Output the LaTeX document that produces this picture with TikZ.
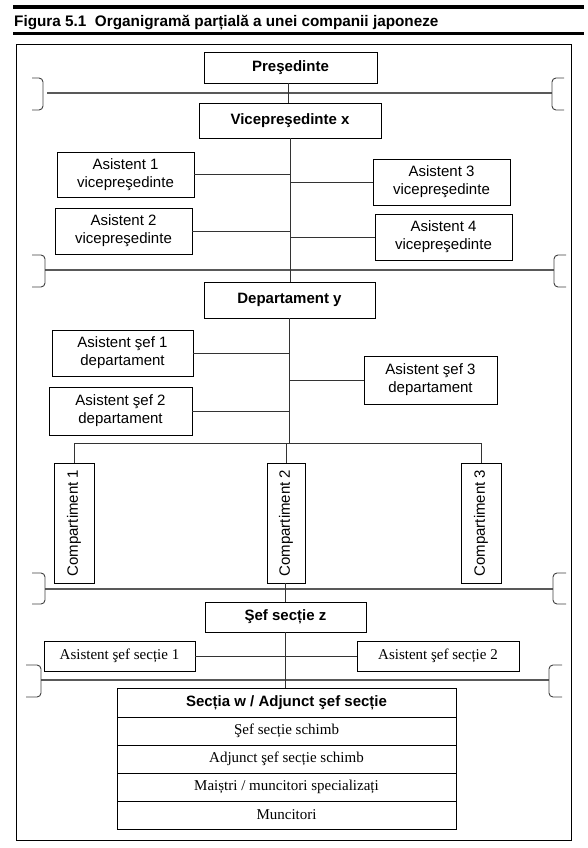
\documentclass[tikz,border=0pt]{standalone}
\usepackage{fontspec}
\setmainfont{Liberation Sans}
\newfontfamily\seriffont{Liberation Serif}
\begin{document}
\begin{tikzpicture}[x=1pt,y=-1pt,
  box/.style={draw=black,line width=0.9pt,fill=white,inner sep=1pt,align=center,
    font=\fontsize{15}{18}\selectfont},
  bbox/.style={box,font=\bfseries\fontsize{15}{18}\selectfont},
  sbox/.style={box,font=\seriffont\fontsize{15}{18}\selectfont},
  vtext/.style={rotate=90,inner sep=0,font=\fontsize{15}{18}\selectfont},
  conn/.style={draw=black!80,line width=0.9pt},
  level/.style={draw=black!65,line width=1.2pt},
  brack/.style={draw=black!75,line width=0.9pt,rounded corners=4pt},
  frame/.style={draw=black,line width=1pt},
  rule/.style={draw=black,line width=3.2pt}]
\useasboundingbox (0,0) rectangle (587,848);
% title
\draw[rule] (13,7) -- (584,7);
\draw[rule] (13,33.5) -- (584,33.5);
\node[anchor=base west,inner sep=0,font=\bfseries\fontsize{15.3}{18}\selectfont] (title) at (14,26.5)
  {Figura 5.1\ \ Organigramă parțială a unei companii japoneze};
% frame
\draw[frame] (16,45) rectangle (571,840);
% level lines with brackets
\draw[level] (47,93) -- (552,93);
\draw[brack] (32,78) -- (43,78) -- (43,110) -- (32,110);
\draw[brack] (564,78) -- (552,78) -- (552,110) -- (564,110);
\draw[level] (45,270) -- (554,270);
\draw[brack] (32,255) -- (45,255) -- (45,287) -- (32,287);
\draw[brack] (566,255) -- (554,255) -- (554,287) -- (566,287);
\draw[level] (45,589) -- (553,589);
\draw[brack] (32,573) -- (45,573) -- (45,604) -- (32,604);
\draw[brack] (566,573) -- (553,573) -- (553,604) -- (566,604);
\draw[level] (41,680) -- (549,680);
\draw[brack] (26,665) -- (41,665) -- (41,697) -- (26,697);
\draw[brack] (562,665) -- (549,665) -- (549,697) -- (562,697);
% nodes
\node[bbox,minimum width=173pt,minimum height=31pt] (pres) at (290.5,67.5) {Preşedinte};
\node[bbox,minimum width=182pt,minimum height=35pt] (vice) at (290,120.5) {Vicepreşedinte x};
\node[box,minimum width=137pt,minimum height=45pt] (a1) at (125.5,174.5) {Asistent 1\\vicepreşedinte};
\node[box,minimum width=137pt,minimum height=46pt] (a3) at (441.5,182) {Asistent 3\\vicepreşedinte};
\node[box,minimum width=137pt,minimum height=46pt] (a2) at (123.5,231) {Asistent 2\\vicepreşedinte};
\node[box,minimum width=137pt,minimum height=46pt] (a4) at (443.5,237) {Asistent 4\\vicepreşedinte};
\node[bbox,minimum width=171pt,minimum height=36pt] (dep) at (289.5,300) {Departament y};
\node[box,minimum width=141pt,minimum height=46pt] (s1) at (122.5,353) {Asistent şef 1\\departament};
\node[box,minimum width=133pt,minimum height=48pt] (s3) at (430.5,380) {Asistent şef 3\\departament};
\node[box,minimum width=143pt,minimum height=48pt] (s2) at (120.5,411) {Asistent şef 2\\departament};
\node[box,minimum width=40pt,minimum height=120pt] (c1) at (74,523) {};
\node[box,minimum width=38pt,minimum height=120pt] (c2) at (286,523) {};
\node[box,minimum width=40pt,minimum height=120pt] (c3) at (481,523) {};
\node[vtext] (c1t) at (c1) {Compartiment 1};
\node[vtext] (c2t) at (c2) {Compartiment 2};
\node[vtext] (c3t) at (c3) {Compartiment 3};
\node[bbox,minimum width=161pt,minimum height=30pt] (sz) at (285.5,617) {Şef secție z};
\node[sbox,minimum width=151pt,minimum height=30pt] (as1) at (119.5,656) {Asistent şef secție 1};
\node[sbox,minimum width=162pt,minimum height=30pt] (as2) at (438,656) {Asistent şef secție 2};
\node[bbox,minimum width=339pt,minimum height=29pt] (t1) at (286.5,702.5) {Secția w / Adjunct şef secție};
\node[sbox,minimum width=339pt,minimum height=28pt] (t2) at (286.5,731) {Şef secție schimb};
\node[sbox,minimum width=339pt,minimum height=28pt] (t3) at (286.5,759) {Adjunct şef secție schimb};
\node[sbox,minimum width=339pt,minimum height=28pt] (t4) at (286.5,787) {Maiștri / muncitori specializați};
\node[sbox,minimum width=339pt,minimum height=28pt] (t5) at (286.5,815) {Muncitori};
\coordinate (cbar) at (289.5,443);
% connectors
\draw[conn] (pres.south -| 288,0) -- (vice.north -| 288,0);
\draw[conn] (vice.south) -- (vice.south |- dep.north);
\draw[conn] (a1.east) -- (a1.east -| vice.south);
\draw[conn] (a2.east) -- (a2.east -| vice.south);
\draw[conn] (a3.west) -- (a3.west -| vice.south);
\draw[conn] (a4.west) -- (a4.west -| vice.south);
\draw[conn] (dep.south) -- (cbar);
\draw[conn] (s1.east) -- (s1.east -| dep.south);
\draw[conn] (s2.east) -- (s2.east -| dep.south);
\draw[conn] (s3.west) -- (s3.west -| dep.south);
\draw[conn] (c1.north) -- (c1.north |- cbar) -- (c3.north |- cbar) -- (c3.north);
\draw[conn] (c2.north) -- (c2.north |- cbar);
\draw[conn] (c2.south -| sz.north) -- (sz.north);
\draw[conn] (sz.south) -- (sz.south |- t1.north);
\draw[conn] (as1.east) -- (as2.west);
\end{tikzpicture}
\end{document}
